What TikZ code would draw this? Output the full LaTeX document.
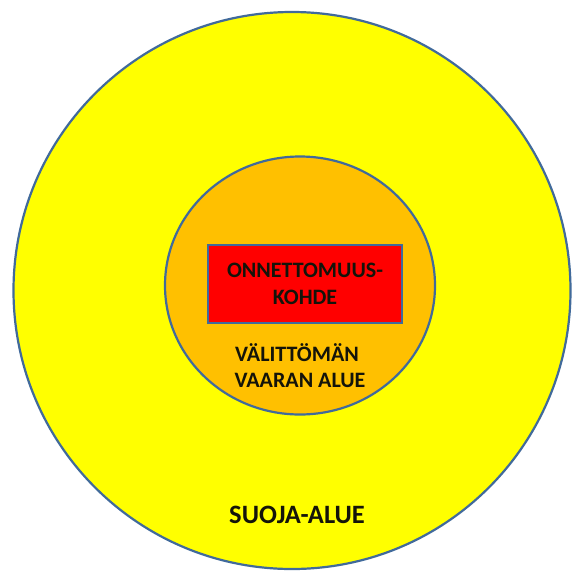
\documentclass[tikz,border=0pt]{standalone}
\usepackage{fontspec}
\setmainfont{Carlito}
\definecolor{zoneyellow}{RGB}{255,255,0}
\definecolor{zoneorange}{RGB}{255,192,0}
\definecolor{zonered}{RGB}{255,0,0}
\definecolor{zoneedge}{RGB}{65,106,155}
\definecolor{zonetext}{RGB}{20,20,10}
\tikzset{
  zone/.style={draw=zoneedge, line width=2.2pt},
  lbl/.style={anchor=base, inner sep=0pt, text=zonetext, font=\bfseries\fontsize{22}{26}\selectfont},
  biglbl/.style={lbl, font=\bfseries\fontsize{26.5}{30}\selectfont}
}
\begin{document}
\begin{tikzpicture}[x=1pt,y=-1pt]
\useasboundingbox (0,0) rectangle (573,571);
\fill[white] (0,0) rectangle (573,571);
\draw[zone, fill=zoneyellow] (292,290.5) circle [radius=278.5];
\draw[zone, fill=zoneorange] (300,285.5) ellipse [x radius=135, y radius=129];
\draw[zone, fill=zonered] (208,245) rectangle (402,323);
\node[lbl] (t1) at (305,277) {ONNETTOMUUS-};
\node[lbl] (t2) at (305,304) {KOHDE};
\node[lbl] (t3) at (297,361) {VÄLITTÖMÄN};
\node[lbl] (t4) at (300,387) {VAARAN ALUE};
\node[biglbl] (t5) at (297,523) {SUOJA-ALUE};
\end{tikzpicture}
\end{document}
